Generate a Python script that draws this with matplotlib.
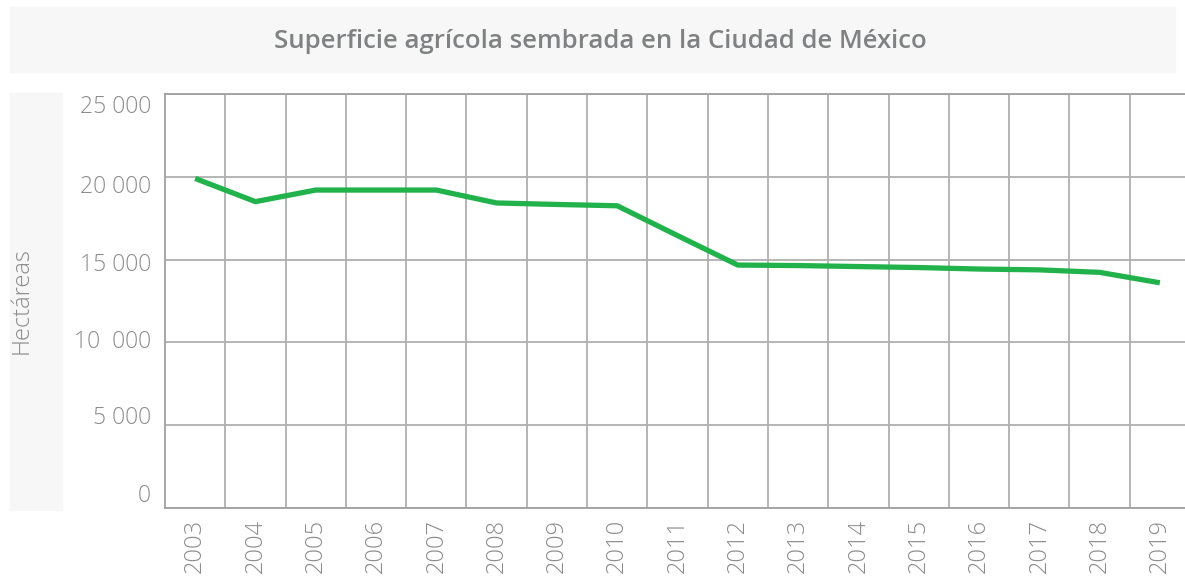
import matplotlib.pyplot as plt
from matplotlib.patches import Rectangle
from matplotlib.transforms import ScaledTranslation

# datos (hectareas sembradas)
anios = [str(a) for a in range(2003, 2020)]
hectareas = [19900, 18500, 19200, 19200, 19200, 18420, 18330, 18250, 16450,
             14670, 14640, 14580, 14520, 14430, 14380, 14230, 13600]
yticks = [0, 5000, 10000, 15000, 20000, 25000]
ytick_labels = ['0', '5 000', '10  000', '15 000', '20 000', '25 000']

gris = '#8c8c8c'
plt.rcParams['font.family'] = ['Open Sans', 'DejaVu Sans']

W, H = 1185, 577
fig = plt.figure(figsize=(W / 100, H / 100), dpi=100)

# cajas de fondo del titulo y de la etiqueta del eje y
fig.patches.append(Rectangle((10 / W, 1 - 72 / H), 1165 / W, 65 / H,
                             transform=fig.transFigure, color='#f7f7f7', zorder=0))
fig.patches.append(Rectangle((10 / W, 1 - 510 / H), 52 / W, 417 / H,
                             transform=fig.transFigure, color='#f7f7f7', zorder=0))
fig.text(600 / W, 1 - 42 / H, 'Superficie agrícola sembrada en la Ciudad de México',
         ha='center', va='center', fontsize=18.5, fontweight='semibold', color='#7f8182')
fig.text(22 / W, 1 - 301 / H, 'Hectáreas', rotation=90, ha='center', va='center',
         fontsize=17, fontweight='light', color=gris)

ax = fig.add_axes([165 / W, 1 - 508 / H, 1025 / W, 414 / H])
x = list(range(len(anios)))
ax.plot(x, hectareas, color='#22b24c', lw=3.8, solid_capstyle='butt', zorder=3)

ax.set_xlim(-0.5, len(anios) - 0.5)
ax.set_ylim(0, 25000)
ax.set_xticks(x)
ax.set_xticklabels(anios, rotation=90)
ax.set_xticks([i + 0.5 for i in x[:-1]], minor=True)
ax.set_yticks(yticks)
ax.set_yticklabels(ytick_labels)
ax.tick_params(axis='both', which='both', length=0, labelcolor=gris)
ax.tick_params(axis='y', pad=10, labelsize=16.5)
ax.tick_params(axis='x', pad=8, labelsize=17)
for lab in ax.get_xticklabels() + ax.get_yticklabels():
    lab.set_fontweight('light')

# en el original las etiquetas del eje y no caen justo en la rejilla
desplaz = [15, 10, 3, -2, -7, -10]
for lab, d in zip(ax.get_yticklabels(), desplaz):
    lab.set_transform(lab.get_transform() + ScaledTranslation(0, d / 100, fig.dpi_scale_trans))

ax.grid(axis='y', which='major', color='#b0b0b0', lw=1.3)
ax.grid(axis='x', which='minor', color='#b0b0b0', lw=1.3)
for s in ax.spines.values():
    s.set_color('#a0a0a0')
    s.set_linewidth(1.3)

fig.savefig('out.png', dpi=100)
